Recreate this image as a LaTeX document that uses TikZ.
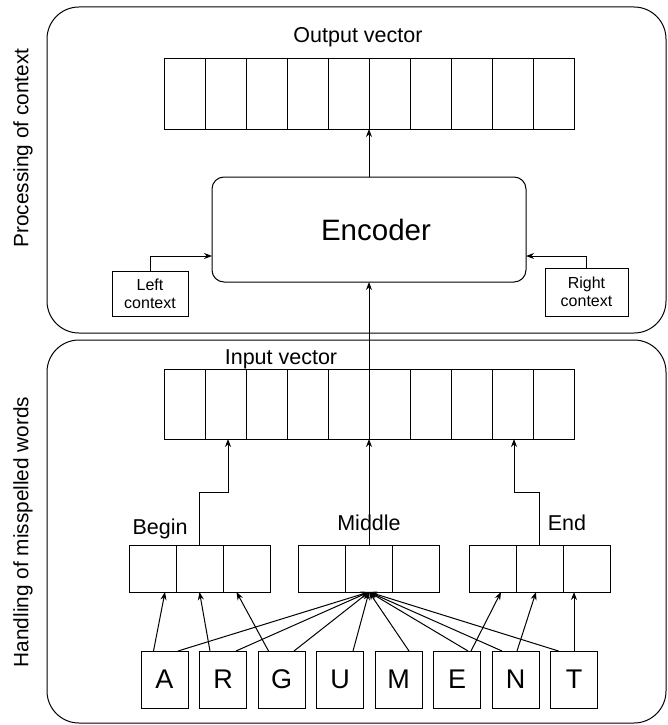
\documentclass[tikz,border=0pt]{standalone}
\usepackage{fontspec}
\setmainfont{Liberation Sans}
\usetikzlibrary{arrows.meta}
\begin{document}
\begin{tikzpicture}[x=1pt,y=-1pt,
  line width=1pt,
  every node/.style={inner sep=0pt, outer sep=0pt},
  panel/.style={draw, rounded corners=32pt},
  cell/.style={draw, minimum width=41pt, minimum height=70pt},
  part/.style={draw, minimum width=47pt, minimum height=47pt},
  letter/.style={draw, minimum width=47pt, minimum height=57pt, font=\fontsize{27}{32}\selectfont},
  ctxbox/.style={draw, align=center, font=\fontsize{16}{18}\selectfont},
  label/.style={font=\fontsize{21.5}{26}\selectfont},
  side/.style={rotate=90, font=\fontsize{20.8}{24}\selectfont},
  arr/.style={-{Stealth[length=8pt,width=6pt]}}
]
\useasboundingbox (0,0) rectangle (668,725);

% two processing stages
\node[panel, minimum width=619pt, minimum height=326pt] (upper) at (356.5,170) {};
\node[panel, minimum width=619pt, minimum height=383pt] (lower) at (356.5,531.5) {};
\node[side] (upperlbl) at (23,148) {Processing of context};
\node[side] (lowerlbl) at (23,532) {Handling of misspelled words};

% output and input vectors
\node[label] (outlbl) at (358,37) {Output vector};
\node[label] (inlbl) at (281,359) {Input vector};
\foreach \i in {1,...,10} {
  \node[cell] (out\i) at ({164+41*(\i-0.5)},94) {};
  \node[cell] (in\i) at ({164+41*(\i-0.5)},404) {};
}

% encoder with its context inputs
\node[draw, rounded corners=12pt, minimum width=314pt, minimum height=105pt,
      font=\fontsize{29.5}{36}\selectfont] (enc) at (369,229.5) {\hspace*{14pt}Encoder};
\node[ctxbox, minimum width=76pt, minimum height=45pt] (lctx) at (150,293.5) {Left\\context};
\node[ctxbox, minimum width=83pt, minimum height=48pt] (rctx) at (586.5,292) {Right\\context};

\draw[arr] (enc.north) -- (enc.north |- out5.south);
\draw[arr] (lctx.north) |- ([yshift=-26.5pt]enc.west);
\draw[arr] (rctx.north) |- ([yshift=-26.5pt]enc.east);
\draw[arr] (in5.south east) -- (in5.south east |- enc.south);

% begin / middle / end groups
\foreach \i/\x in {1/152.5,2/199.5,3/246.5} {\node[part] (beg\i) at (\x,568.5) {};}
\foreach \i/\x in {1/322,2/369,3/416} {\node[part] (mid\i) at (\x,568.5) {};}
\foreach \i/\x in {1/492.5,2/539.5,3/586.5} {\node[part] (end\i) at (\x,568.5) {};}
\node[label] (beglbl) at (160,529) {Begin};
\node[label] (midlbl) at (369,523) {Middle};
\node[label] (endlbl) at (567,523) {End};

\coordinate (bjoin) at (199.5,492);
\coordinate (ejoin) at (539.5,492);
\draw[arr] (beg2.north) -- (bjoin) -| (in2.south -| 228,0);
\draw[arr] (end2.north) -- (ejoin) -| (in9.south -| 514,0);
\draw[arr] (mid2.north) -- (mid2.north |- in5.south);

% the letters of the word
\foreach \n/\t [count=\k from 0] in {A/A,R/R,G/G,U/U,M/M,E/E,N/N,T/T} {
  \node[letter] (L\n) at ({164.5+58.5*\k},679.5) {\t};
}

\draw[arr] ([xshift=-11pt]LA.north) -- ([xshift=12.5pt]beg1.south);
\draw[arr] ([xshift=-13pt]LR.north) -- (beg2.south);
\draw[arr] ([xshift=-13pt]LG.north) -- ([xshift=-10pt]beg3.south);
\draw[arr] ([xshift=14pt]LE.north) -- ([xshift=8.5pt]end1.south);
\draw[arr] ([xshift=1.5pt]LN.north) -- ([xshift=-3.5pt]end2.south);
\draw[arr] (LT.north) -- (LT.north |- end3.south);

\foreach \n/\d in {A/13.5,R/13,G/12.5,U/13,M/10.5,E/11,N/-13.5,T/-15.5} {
  \draw[arr] ([xshift=\d pt]L\n.north) -- (mid2.south);
}
\end{tikzpicture}
\end{document}
